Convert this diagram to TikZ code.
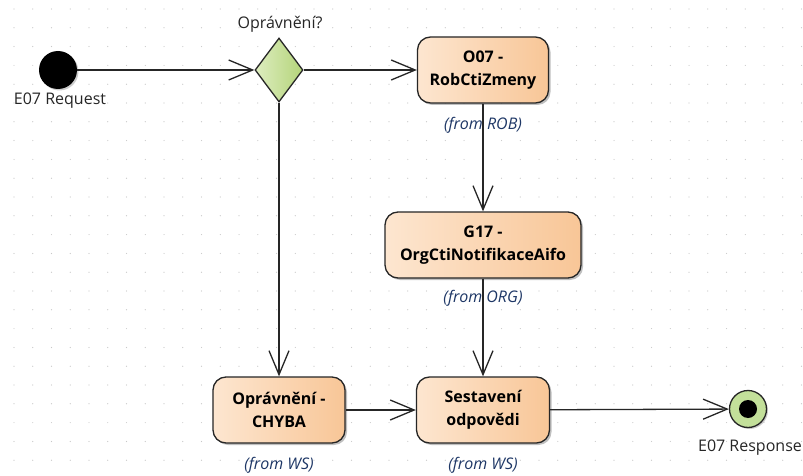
\documentclass[tikz,border=0pt]{standalone}
\usepackage{fontspec}
\setmainfont{Open Sans}
\usetikzlibrary{shapes.geometric,arrows.meta,shadows}
\definecolor{boxL}{HTML}{FDE6D0}
\definecolor{boxR}{HTML}{F8C697}
\definecolor{diaL}{HTML}{DDEDBF}
\definecolor{diaR}{HTML}{B4D47A}
\definecolor{endG}{HTML}{C3E09A}
\definecolor{fromC}{HTML}{1E3766}
\definecolor{dotC}{HTML}{C8C8C8}
\tikzset{
  actbox/.style={draw=black!85, line width=1.3pt, rounded corners=13pt, minimum height=66pt,
    align=center, font=\fontsize{16}{23}\selectfont\bfseries, left color=boxL, right color=boxR,
    drop shadow={shadow xshift=2pt, shadow yshift=-2pt, opacity=0.25, fill=black}},
  startc/.style={circle, fill=black, minimum size=38pt, inner sep=0pt,
    drop shadow={shadow xshift=1.5pt, shadow yshift=-1.5pt, opacity=0.2, fill=black}},
  endc/.style={circle, draw=black!85, line width=1.3pt, fill=endG, minimum size=37pt, inner sep=0pt,
    drop shadow={shadow xshift=1.5pt, shadow yshift=-1.5pt, opacity=0.2, fill=black}},
  dia/.style={diamond, draw=black!85, line width=1.3pt, minimum width=48pt, minimum height=64pt,
    inner sep=0pt, left color=diaL, right color=diaR},
  lbl/.style={font=\fontsize{16}{19}\selectfont, text=black!85, inner sep=0pt},
  fromlbl/.style={font=\fontsize{16}{19}\selectfont\itshape, text=fromC, inner sep=0pt},
  flow/.style={draw=black!85, line width=1.3pt, -{Straight Barb[length=24pt,width=20pt,line width=1.3pt]}}
}
\begin{document}
\begin{tikzpicture}[x=1pt,y=-1pt]
\useasboundingbox (0,0) rectangle (803,476);
\fill[white] (0,0) rectangle (803,476);
\foreach \i in {0,...,42} {
  \foreach \j in {0,...,25} {
    \fill[dotC] (14+18.75*\i, 9+18.8*\j) circle (0.6pt);
  }
}
\node[startc] (start) at (58,70) {};
\node[lbl] (startl) at (60,101) {E07 Request};
\node[dia] (dec) at (279,70) {};
\node[lbl] (decl) at (280,24) {Oprávnění?};
\node[actbox, minimum width=131pt] (o07) at (483,70) {O07 -\\RobCtiZmeny};
\node[fromlbl] (o07f) at (483,125) {(from ROB)};
\node[actbox, minimum width=196pt] (g17) at (483,245) {G17 -\\OrgCtiNotifikaceAifo};
\node[fromlbl] (g17f) at (483,298) {(from ORG)};
\node[actbox, minimum width=132pt] (chyba) at (279,410) {Oprávnění -\\CHYBA};
\node[fromlbl] (chybaf) at (279,465) {(from WS)};
\node[actbox, minimum width=133pt] (sest) at (483,410) {Sestavení\\odpovědi};
\node[fromlbl] (sestf) at (483,465) {(from WS)};
\node[endc] (end) at (748,409) {};
\fill[black] (end.center) circle (9pt);
\node[lbl] (endl) at (750,448) {E07 Response};
\draw[flow] (start) -- (dec);
\draw[flow] (dec) -- (o07);
\draw[flow] (dec) -- (chyba);
\draw[flow] (o07) -- (g17);
\draw[flow] (g17) -- (sest);
\draw[flow] (chyba) -- (sest);
\draw[flow] (sest) -- (end);
\end{tikzpicture}
\end{document}
